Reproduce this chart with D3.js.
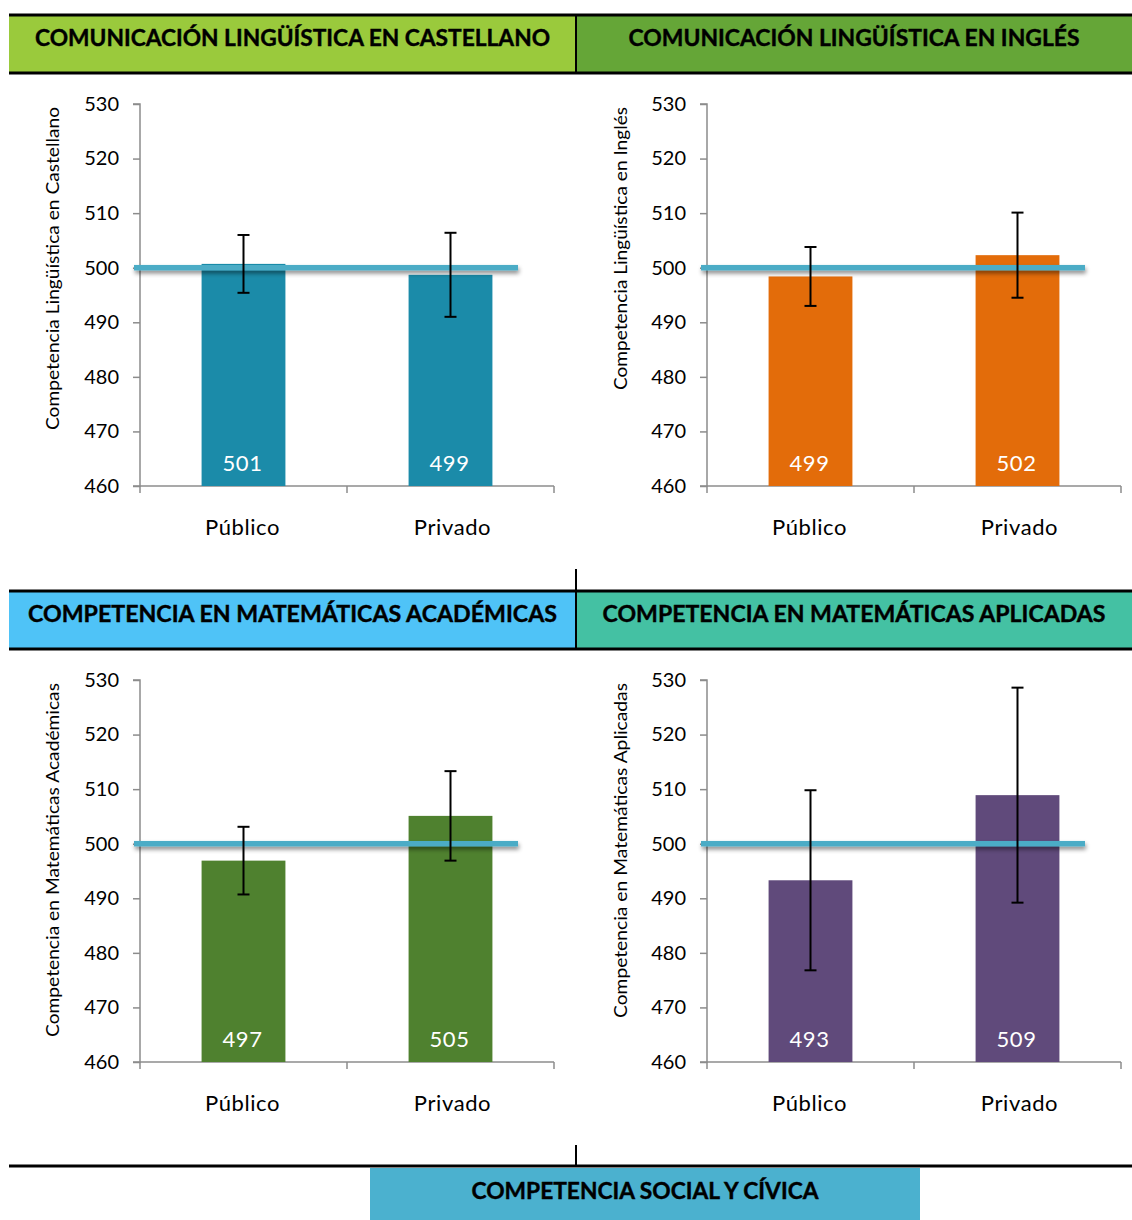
<!DOCTYPE html>
<html>
<head>
<meta charset="utf-8">
<script src="https://cdn.jsdelivr.net/npm/d3@7"></script>
<style>
  html, body { margin: 0; padding: 0; background: #fff; }
  svg { display: block; }
</style>
</head>
<body>
<svg id="chart" width="1132" height="1220"></svg>
<script>
// ---------- DATA ----------
const categories = ["Público", "Privado"];
const panelTitles = [
  "COMUNICACIÓN LINGÜÍSTICA EN CASTELLANO",
  "COMUNICACIÓN LINGÜÍSTICA EN INGLÉS",
  "COMPETENCIA EN MATEMÁTICAS ACADÉMICAS",
  "COMPETENCIA EN MATEMÁTICAS APLICADAS"
];
const bottomTitle = "COMPETENCIA SOCIAL Y CÍVICA";
const axisTitles = [
  "Competencia Lingüística en Castellano",
  "Competencia Lingüística en Inglés",
  "Competencia en Matemáticas Académicas",
  "Competencia en Matemáticas Aplicadas"
];
const castellanoValues = [500.7, 498.7];
const inglesValues = [498.4, 502.3];
const academicasValues = [496.9, 505.1];
const aplicadasValues = [493.3, 508.9];
const castellanoErrors = [5.3, 7.7];
const inglesErrors = [5.4, 7.8];
const academicasErrors = [6.2, 8.2];
const aplicadasErrors = [16.5, 19.7];
const castellanoLabels = ["501", "499"];
const inglesLabels = ["499", "502"];
const academicasLabels = ["497", "505"];
const aplicadasLabels = ["493", "509"];
const yTicks = [460, 470, 480, 490, 500, 510, 520, 530];
const yDomain = [460, 530];
const referenceValue = 500;

// ---------- STYLE ----------
const barColors = ["#1B8BA9", "#E36C0A", "#4F812F", "#604A7B"];
const headerColors = ["#9ACA3C", "#65A637", "#4FC3F7", "#44C1A3"];
const bottomColor = "#4BB1CF";
const refColor = "#4BACC6";
const axisColor = "#8c8c8c";
const font = "Lato, 'Open Sans', sans-serif";

const panels = [
  { values: castellanoValues, errors: castellanoErrors, labels: castellanoLabels },
  { values: inglesValues, errors: inglesErrors, labels: inglesLabels },
  { values: academicasValues, errors: academicasErrors, labels: academicasLabels },
  { values: aplicadasValues, errors: aplicadasErrors, labels: aplicadasLabels }
];

// Layout
const plotLeft = [140, 707];
const plotTop = [104, 680];
const plotW = 414, plotH = 382;
const headerTop = [15, 591];
const headerH = 58;
const headerBoxes = [[9, 576], [576, 1132]];
const headerTextW = [515, 451, 529, 503];
const axisTitleW = [323, 283, 354, 335];

const svg = d3.select("#chart");
const defs = svg.append("defs");
const flt = defs.append("filter").attr("id", "shadow")
  .attr("filterUnits", "userSpaceOnUse")
  .attr("x", -50).attr("y", -50).attr("width", 1300).attr("height", 1400);
flt.append("feDropShadow").attr("dx", 1).attr("dy", 3).attr("stdDeviation", 2)
  .attr("flood-color", "#000").attr("flood-opacity", 0.45);

// ---------- HEADERS ----------
for (let r = 0; r < 2; r++) {
  const y0 = headerTop[r];
  for (let c = 0; c < 2; c++) {
    const i = r * 2 + c;
    const [x0, x1] = headerBoxes[c];
    svg.append("rect").attr("x", x0).attr("y", y0).attr("width", x1 - x0).attr("height", headerH)
      .attr("fill", headerColors[i]);
    svg.append("text").attr("x", (x0 + x1) / 2).attr("y", y0 + 22)
      .attr("text-anchor", "middle").attr("dominant-baseline", "central")
      .attr("font-family", font).attr("font-weight", "bold").attr("font-size", 23)
      .attr("stroke", "#000").attr("stroke-width", 0.4)
      .attr("textLength", headerTextW[i]).attr("lengthAdjust", "spacingAndGlyphs")
      .attr("fill", "#000").text(panelTitles[i]);
  }
  svg.append("line").attr("x1", 9).attr("x2", 1132).attr("y1", y0).attr("y2", y0)
    .attr("stroke", "#000").attr("stroke-width", 3);
  svg.append("line").attr("x1", 9).attr("x2", 1132).attr("y1", y0 + headerH).attr("y2", y0 + headerH)
    .attr("stroke", "#000").attr("stroke-width", 3);
  svg.append("line").attr("x1", 576).attr("x2", 576)
    .attr("y1", r === 0 ? y0 : y0 - 22).attr("y2", y0 + headerH)
    .attr("stroke", "#000").attr("stroke-width", 2);
}

// bottom section
svg.append("line").attr("x1", 576).attr("x2", 576).attr("y1", 1145).attr("y2", 1166)
  .attr("stroke", "#000").attr("stroke-width", 2);
svg.append("rect").attr("x", 370).attr("y", 1168).attr("width", 550).attr("height", 52).attr("fill", bottomColor);
svg.append("line").attr("x1", 9).attr("x2", 1132).attr("y1", 1166).attr("y2", 1166)
  .attr("stroke", "#000").attr("stroke-width", 3);
svg.append("text").attr("x", 645).attr("y", 1190)
  .attr("text-anchor", "middle").attr("dominant-baseline", "central")
  .attr("font-family", font).attr("font-weight", "bold").attr("font-size", 23)
  .attr("stroke", "#000").attr("stroke-width", 0.4)
  .attr("textLength", 347).attr("lengthAdjust", "spacingAndGlyphs")
  .attr("fill", "#000").text(bottomTitle);

// ---------- PANELS ----------
panels.forEach((p, i) => {
  const r = Math.floor(i / 2), c = i % 2;
  const g = svg.append("g").attr("transform", `translate(${plotLeft[c]},${plotTop[r]})`);
  const x = d3.scaleBand().domain(categories).range([0, plotW]).padding(0);
  const y = d3.scaleLinear().domain(yDomain).range([plotH, 0]);
  const barW = x.bandwidth() * 0.405;

  // Y axis
  const ya = g.append("g").call(d3.axisLeft(y).tickValues(yTicks).tickSize(7).tickPadding(14).tickFormat(d3.format("d")));
  ya.select(".domain").attr("stroke", axisColor).attr("stroke-width", 1.5).attr("d", `M-7,0H0V${plotH}H-7`);
  ya.selectAll(".tick line").attr("stroke", axisColor).attr("stroke-width", 1.5);
  ya.selectAll(".tick text").attr("font-family", font).attr("font-size", 20).attr("fill", "#000");

  // X axis
  const xa = g.append("g").attr("transform", `translate(0,${plotH})`)
    .call(d3.axisBottom(x).tickSize(0).tickPadding(33));
  xa.select(".domain").attr("stroke", axisColor).attr("stroke-width", 1.5).attr("d", `M0,0H${plotW}`);
  xa.selectAll(".tick text").attr("font-family", font).attr("font-size", 22).attr("fill", "#000")
    .attr("dx", (d, k) => k === 0 ? -1 : 2).attr("letter-spacing", 0.6);
  // category boundary tick marks
  xa.selectAll(".bt").data([0, x.bandwidth(), plotW]).enter().append("line")
    .attr("x1", d => d).attr("x2", d => d).attr("y1", 0).attr("y2", 7)
    .attr("stroke", axisColor).attr("stroke-width", 1.5);

  // bars
  g.selectAll(".bar").data(categories).enter().append("rect")
    .attr("x", d => x(d) + x.bandwidth() / 2 - barW / 2)
    .attr("width", barW)
    .attr("y", (d, k) => y(p.values[k]))
    .attr("height", (d, k) => y(yDomain[0]) - y(p.values[k]))
    .attr("fill", barColors[i]);

  // reference line (drawn as a thin rect so the shadow filter renders)
  g.append("rect")
    .attr("x", -6).attr("width", 384)
    .attr("y", y(referenceValue) - 2.75).attr("height", 5.5)
    .attr("fill", refColor)
    .attr("filter", "url(#shadow)");

  // error bars
  categories.forEach((d, k) => {
    const cx = x(d) + x.bandwidth() / 2;
    const top = y(p.values[k] + p.errors[k]);
    const bot = y(p.values[k] - p.errors[k]);
    g.append("line").attr("x1", cx).attr("x2", cx).attr("y1", top).attr("y2", bot)
      .attr("stroke", "#000").attr("stroke-width", 2);
    [top, bot].forEach(yy => g.append("line").attr("x1", cx - 6).attr("x2", cx + 6)
      .attr("y1", yy).attr("y2", yy).attr("stroke", "#000").attr("stroke-width", 2));
  });

  // value labels
  g.selectAll(".vl").data(categories).enter().append("text")
    .attr("x", d => x(d) + x.bandwidth() / 2 - 1)
    .attr("y", y(yDomain[0]) - 24)
    .attr("text-anchor", "middle").attr("dominant-baseline", "central")
    .attr("font-family", font).attr("font-size", 22).attr("fill", "#fff")
    .attr("letter-spacing", 0.5)
    .text((d, k) => p.labels[k]);

  // axis title
  g.append("text")
    .attr("transform", `translate(${c === 0 ? -88 : -87},3) rotate(-90)`)
    .attr("text-anchor", "end").attr("dominant-baseline", "central")
    .attr("font-family", font).attr("font-size", 17).attr("fill", "#000")
    .attr("textLength", axisTitleW[i]).attr("lengthAdjust", "spacingAndGlyphs")
    .text(axisTitles[i]);
});
</script>
</body>
</html>
